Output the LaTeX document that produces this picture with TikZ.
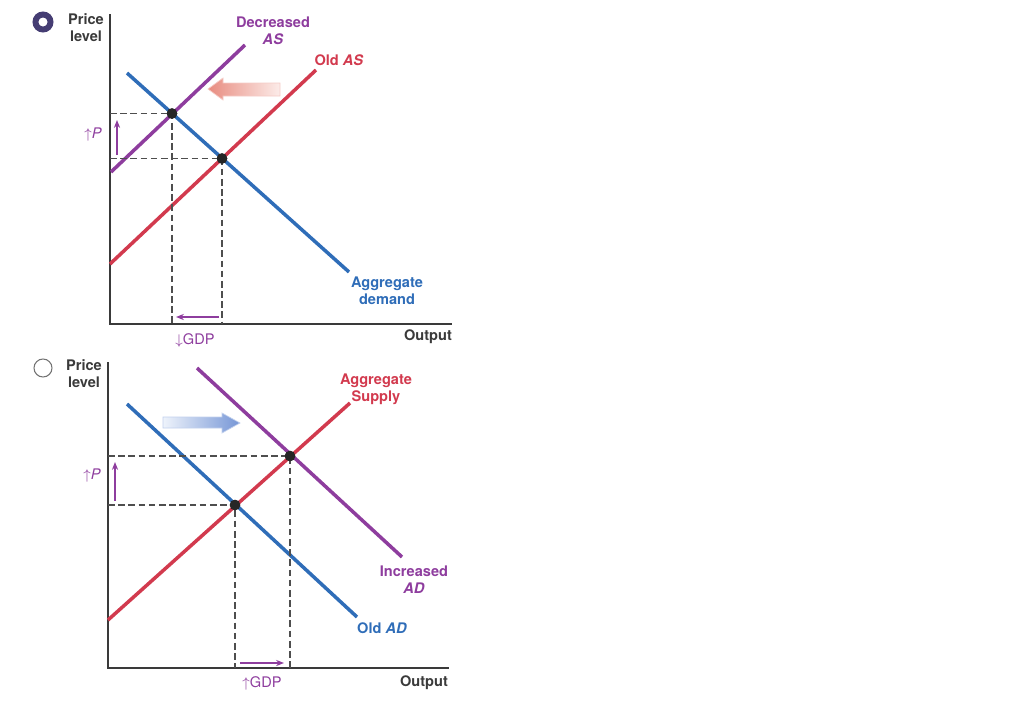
\documentclass[tikz,border=0pt]{standalone}
\usepackage{fontspec}
\setmainfont{TeX Gyre Heros}
\usetikzlibrary{positioning,calc,arrows.meta}

\definecolor{asred}{HTML}{D23A4E}
\definecolor{adblue}{HTML}{2F6DB8}
\definecolor{shiftpurple}{HTML}{8E3D9E}
\definecolor{axisgray}{HTML}{3A3A3A}
\definecolor{radiodark}{HTML}{453D73}
\definecolor{salmonhead}{RGB}{232,140,128}
\definecolor{salmontail}{RGB}{252,236,233}
\definecolor{bluehead}{RGB}{118,150,214}
\definecolor{bluetail}{RGB}{238,243,251}

\begin{document}
\begin{tikzpicture}[
    x=0.02cm, y=-0.02cm,
    econline/.style={line width=2pt},
    guide/.style={dash pattern=on 3.8pt off 2pt, line width=0.6pt, color=axisgray!90},
    axisline/.style={line width=0.8pt, color=axisgray},
    eqdot/.style={circle, fill=black!85, inner sep=0pt, minimum size=0.21cm},
    curvetext/.style={font=\fontsize{8.3}{9.6}\selectfont\bfseries, align=center, inner sep=0pt},
    notetext/.style={font=\fontsize{8.3}{9.6}\selectfont, inner sep=0pt, text=shiftpurple},
    shiftarrow/.style={-{Stealth[length=4.5pt,width=3.5pt]}, line width=1.1pt, shiftpurple}
]
    \useasboundingbox (0,0) rectangle (1024,727);

    %% ---------- Panel 1: decrease in AS ----------
    % Auswahl
    \draw[radiodark, line width=3.4pt] (43,22) circle (7.5);
    \node[curvetext, text=axisgray] (price1) at (86,28) {Price\\level};

    % Achsen
    \coordinate (top1) at (110,14);
    \coordinate (o1) at (110,324);
    \coordinate (end1) at (452,324);
    \draw[axisline] (top1) -- (o1) -- (end1);
    \node[curvetext, text=axisgray] (out1) at (428,337) {Output};

    % Kurven
    \coordinate (das-a) at (111,172);
    \coordinate (das-b) at (245,45);
    \coordinate (oas-a) at (110,264);
    \coordinate (oas-b) at (316,70);
    \coordinate (ad-a) at (127,73);
    \coordinate (ad-b) at (349,272);
    \draw[econline, shiftpurple] (das-a) -- (das-b);
    \draw[econline, asred] (oas-a) -- (oas-b);
    \draw[econline, adblue] (ad-a) -- (ad-b);

    % Gleichgewichte
    \node[eqdot] (e1) at (172,113.5) {};
    \node[eqdot] (e2) at (222,158.5) {};
    \draw[guide] (o1 |- e1) -- (e1.center) -- (e1.center |- o1);
    \draw[guide] (o1 |- e2) -- (e2.center) -- (e2.center |- o1);
    \node[eqdot] at (e1) {};
    \node[eqdot] at (e2) {};

    % Beschriftungen
    \node[curvetext, text=shiftpurple] (das) at (273,31) {Decreased\\\textit{AS}};
    \node[curvetext, text=asred] (oas) at (339,60) {Old \textit{AS}};
    \node[curvetext, text=adblue] (ad) at (387,291) {Aggregate\\demand};

    % Verschiebung
    \coordinate (p1-a) at (117,155);
    \coordinate (p1-b) at (117,120);
    \draw[shiftarrow] (p1-a) -- (p1-b);
    \node[notetext] (up1) at (93,135) {$\uparrow$\textit{P}};
    \coordinate (g1-a) at (219,317);
    \coordinate (g1-b) at (176,317);
    \draw[shiftarrow] (g1-a) -- (g1-b);
    \node[notetext] (gdp1) at (195,340) {$\downarrow$GDP};
    \shade[left color=salmonhead, right color=salmontail, draw=salmonhead!45]
        (208,89) -- (223,78) -- (223,83) -- (280,83) -- (280,96) -- (223,96) -- (223,100) -- cycle;

    %% ---------- Panel 2: increase in AD ----------
    % Auswahl
    \draw[black!55, line width=0.6pt] (43,368) circle (9);
    \node[curvetext, text=axisgray] (price2) at (84,374) {Price\\level};

    % Achsen
    \coordinate (top2) at (108,362);
    \coordinate (o2) at (108,668);
    \coordinate (end2) at (449,668);
    \draw[axisline] (top2) -- (o2) -- (end2);
    \node[curvetext, text=axisgray] (out2) at (424,683) {Output};

    % Kurven
    \coordinate (as-a) at (108,620);
    \coordinate (as-b) at (350,403);
    \coordinate (oad-a) at (127,404);
    \coordinate (oad-b) at (357,617);
    \coordinate (iad-a) at (197,368);
    \coordinate (iad-b) at (402,557);
    \draw[econline, asred] (as-a) -- (as-b);
    \draw[econline, adblue] (oad-a) -- (oad-b);
    \draw[econline, shiftpurple] (iad-a) -- (iad-b);

    % Gleichgewichte
    \node[eqdot] (e3) at (235,505) {};
    \node[eqdot] (e4) at (290,456) {};
    \draw[guide] (o2 |- e3) -- (e3.center) -- (e3.center |- o2);
    \draw[guide] (o2 |- e4) -- (e4.center) -- (e4.center |- o2);
    \node[eqdot] at (e3) {};
    \node[eqdot] at (e4) {};

    % Beschriftungen
    \node[curvetext, text=asred] (as) at (376,389) {Aggregate\\Supply};
    \node[curvetext, text=shiftpurple] (iad) at (414,580) {Increased\\\textit{AD}};
    \node[curvetext, text=adblue] (oad) at (382,628) {Old \textit{AD}};

    % Verschiebung
    \coordinate (p2-a) at (115,501);
    \coordinate (p2-b) at (115,462);
    \draw[shiftarrow] (p2-a) -- (p2-b);
    \node[notetext] (up2) at (92,476) {$\uparrow$\textit{P}};
    \coordinate (g2-a) at (240,663);
    \coordinate (g2-b) at (284,663);
    \draw[shiftarrow] (g2-a) -- (g2-b);
    \node[notetext] (gdp2) at (262,683) {$\uparrow$GDP};
    \shade[left color=bluetail, right color=bluehead, draw=bluehead!45]
        (163,417) -- (222,417) -- (222,413) -- (240,423) -- (222,433) -- (222,428) -- (163,428) -- cycle;
\end{tikzpicture}
\end{document}
